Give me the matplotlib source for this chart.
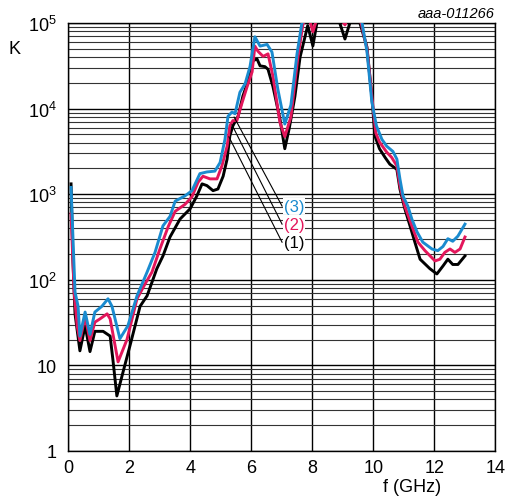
import numpy as np
import matplotlib.pyplot as plt
from matplotlib.ticker import FixedLocator, LogLocator, NullFormatter

plt.rcParams['font.family'] = ['Liberation Sans', 'DejaVu Sans']
plt.rcParams['mathtext.fontset'] = 'custom'
plt.rcParams['mathtext.rm'] = 'Liberation Sans'

# curve (1), black
f1 = [0.1, 0.16, 0.23, 0.39, 0.56, 0.72, 0.88, 1.15, 1.38, 1.47, 1.6, 1.8, 2.03,
      2.36, 2.59, 2.91, 3.11, 3.34, 3.67, 4.0, 4.22, 4.39, 4.55, 4.75, 4.91, 5.08,
      5.21, 5.30, 5.40, 5.57, 5.73, 5.89, 6.06, 6.19, 6.29, 6.45, 6.55, 6.71, 6.94,
      7.1, 7.25, 7.43, 7.6, 7.85, 8.02, 8.15, 8.4, 8.7, 8.9, 9.07, 9.23, 9.4, 9.56,
      9.79, 9.95, 10.05, 10.2, 10.38, 10.54, 10.77, 10.87, 11.03, 11.2, 11.36, 11.53,
      11.85, 12.08, 12.28, 12.44, 12.6, 12.77, 13.0]
k1 = [1320, 174, 40, 14.8, 29, 14.5, 25, 25, 22, 11.7, 4.4, 8.3, 17,
      49, 65, 135, 190, 316, 513, 676, 955, 1320, 1260, 1100, 1150, 1620,
      2570, 4790, 6300, 8130, 14100, 20400, 36300, 38000, 31600, 30900, 28800, 18200, 7600,
      3400, 6000, 13800, 40000, 93000, 54000, 100000, 200000, 160000, 100000, 65000, 100000, 150000, 100000,
      52500, 14000, 4800, 3400, 2700, 2240, 1950, 1150, 676, 427, 275, 174,
      135, 117, 145, 174, 151, 151, 190]

# curve (2), red
f2 = [0.1, 0.2, 0.3, 0.39, 0.56, 0.72, 0.88, 1.05, 1.28, 1.38, 1.64, 1.93, 2.26,
      2.52, 2.75, 3.01, 3.28, 3.51, 3.83, 4.06, 4.26, 4.42, 4.65, 4.88, 5.04, 5.21,
      5.30, 5.40, 5.53, 5.70, 5.86, 6.03, 6.12, 6.22, 6.39, 6.55, 6.71, 6.94, 7.1,
      7.3, 7.53, 7.7, 7.9, 8.02, 8.15, 8.5, 9.07, 9.3, 9.6, 9.79, 9.95, 10.08,
      10.2, 10.44, 10.6, 10.77, 10.87, 11.03, 11.26, 11.46, 11.69, 12.02, 12.18, 12.34,
      12.51, 12.67, 12.84, 13.0]
k2 = [590, 72, 29, 19.5, 37, 19.5, 32, 35, 40, 35, 11, 20, 60,
      89, 123, 229, 417, 631, 760, 933, 1380, 1620, 1510, 1510, 2140, 3630,
      6300, 7240, 7240, 11700, 17800, 26900, 53700, 46800, 40700, 43600, 24000, 6900, 4700,
      8000, 40000, 100000, 112000, 79000, 112000, 200000, 95000, 150000, 100000, 50000, 14000, 5200,
      4070, 3090, 2690, 2140, 1260, 724, 427, 275, 219, 166, 174, 209,
      229, 209, 229, 316]

# curve (3), blue
f3 = [0.1, 0.23, 0.33, 0.39, 0.56, 0.72, 0.88, 1.11, 1.31, 1.44, 1.70, 1.96, 2.26,
      2.59, 2.85, 3.11, 3.34, 3.51, 3.83, 4.06, 4.32, 4.55, 4.81, 4.98, 5.14, 5.24,
      5.37, 5.47, 5.63, 5.80, 5.96, 6.12, 6.29, 6.52, 6.68, 6.87, 7.1, 7.3, 7.5,
      7.66, 7.95, 8.02, 8.3, 9.3, 9.63, 9.79, 9.95, 10.1, 10.28, 10.44, 10.64, 10.77,
      10.87, 10.97, 11.13, 11.26, 11.43, 11.62, 11.92, 12.11, 12.28, 12.44, 12.6, 12.77, 13.0]
k3 = [1200, 72, 49, 22, 42, 23, 42, 49, 60, 49, 20.5, 29, 65,
      123, 209, 427, 550, 830, 955, 1100, 1740, 1820, 1860, 2340, 4370, 8130,
      9120, 8710, 15500, 19500, 30900, 69000, 53700, 56200, 45700, 17000, 6600, 11000, 43600,
      100000, 125000, 105000, 200000, 200000, 100000, 46800, 12000, 6300, 4370, 3630, 3160, 2570,
      1510, 955, 724, 513, 363, 275, 229, 219, 245, 302, 282, 324, 447]

labels = ['(1)', '(2)', '(3)']
colors = ['black', '#E3165B', '#1A8BCF']
# leader lines: (start f, start K, label f, label K)
leaders = [(5.27, 4680, 7.01, 275), (5.37, 6450, 7.01, 447), (5.44, 7950, 7.01, 727)]

fig = plt.figure(figsize=(5.06, 5.02), dpi=100)
ax = fig.add_axes([68/506, 1 - 452/502, (495.5 - 68)/506, (452 - 24)/502])
ax.set_yscale('log')
ax.set_xlim(0, 14)
ax.set_ylim(1, 1e5)

ax.xaxis.set_major_locator(FixedLocator([0, 2, 4, 6, 8, 10, 12, 14]))
ax.yaxis.set_major_locator(FixedLocator([1, 10, 100, 1e3, 1e4, 1e5]))
ax.yaxis.set_minor_locator(LogLocator(base=10, subs=np.arange(2, 10)))
ax.yaxis.set_minor_formatter(NullFormatter())
ax.set_yticklabels(['1', '10', r'$\mathregular{10^2}$', r'$\mathregular{10^3}$',
                    r'$\mathregular{10^4}$', r'$\mathregular{10^5}$'])
ax.tick_params(which='both', length=0, labelsize=13)
ax.tick_params(axis='y', pad=8)
ax.tick_params(axis='x', pad=6)

ax.grid(True, which='major', color='black', lw=1.0)
ax.grid(True, which='minor', axis='y', color='#333333', lw=0.8)
ax.set_axisbelow(True)
for s in ax.spines.values():
    s.set_linewidth(1.0)

for f, k, c in zip([f1, f2, f3], [k1, k2, k3], colors):
    ax.plot(f, k, color=c, lw=2.1, solid_joinstyle='round', zorder=3)

for (x0, y0, x1, y1), lab, c in zip(leaders, labels, colors):
    ax.plot([x0, x1], [y0, y1], color='black', lw=0.8, zorder=4)
    ax.text(x1 + 0.05, y1, lab, color=c, fontsize=12, va='center', ha='left', zorder=5,
            bbox=dict(facecolor='white', edgecolor='none', pad=0.5))

fig.text(15/506, 1 - 49/502, 'K', fontsize=13, ha='center', va='center')
fig.text(412/506, 1 - 488/502, 'f (GHz)', fontsize=13, ha='center', va='center')
fig.text(495/506, 1 - 14/502, 'aaa-011266', fontsize=10.5, style='italic', ha='right', va='center')

fig.savefig('out.png', dpi=100)
